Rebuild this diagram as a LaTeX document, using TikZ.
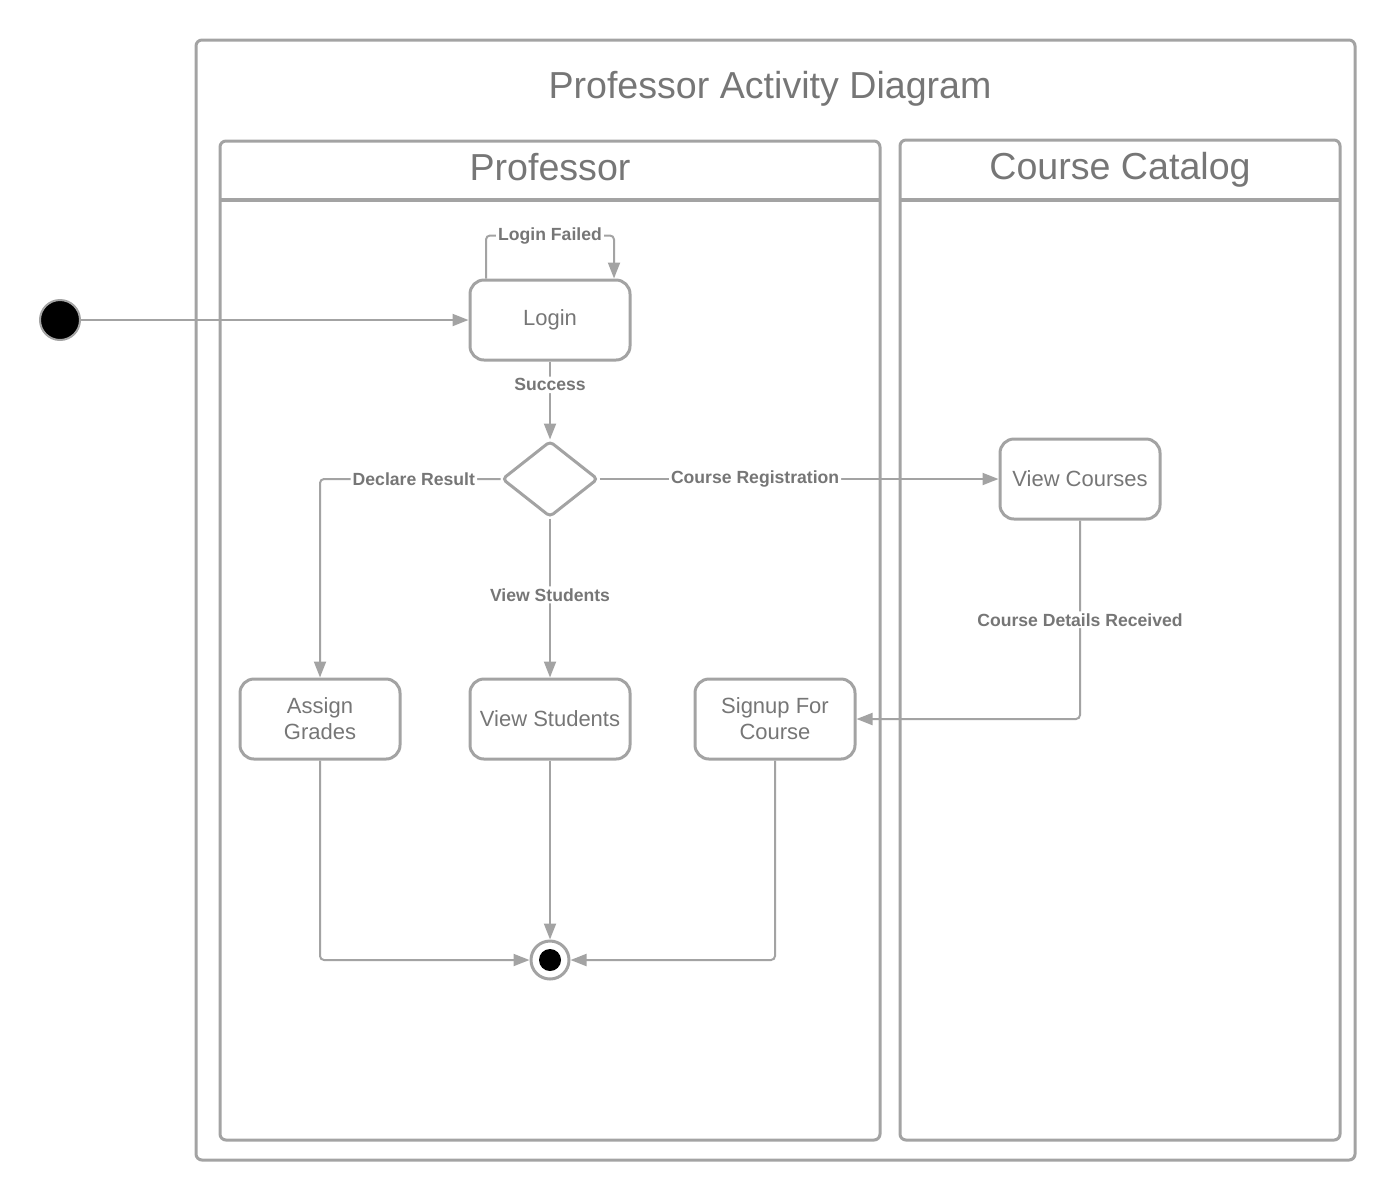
\documentclass[tikz,border=0pt]{standalone}
\usepackage{fontspec}
\setmainfont{Liberation Sans}
\usetikzlibrary{shapes.geometric,arrows.meta,positioning}
\definecolor{linegray}{HTML}{A3A3A3}
\definecolor{textgray}{HTML}{767676}

\begin{document}
\begin{tikzpicture}[x=0.5pt,y=-0.5pt,
  frame/.style={draw=linegray, line width=1.5pt, rounded corners=3pt},
  activity/.style={draw=linegray, line width=1.5pt, rounded corners=7pt, minimum width=80pt,
    minimum height=40pt, text=textgray, align=center, font=\fontsize{11}{13}\selectfont},
  decision/.style={diamond, draw=linegray, line width=1.5pt, rounded corners=2pt,
    minimum width=48pt, minimum height=38pt, inner sep=0pt},
  flow/.style={draw=linegray, line width=1pt, rounded corners=2pt, -{Triangle[length=8pt,width=6pt]}},
  lbl/.style={fill=white, text=textgray, inner sep=1pt, font=\bfseries\fontsize{8.8}{10}\selectfont},
  heading/.style={text=textgray, font=\fontsize{18.8}{22}\selectfont}]
  \useasboundingbox (0,0) rectangle (1400,1200);

  % frames and swimlanes
  \draw[frame] (196,40) rectangle (1355,1160);
  \node[heading] (diagtitle) at (770,89) {Professor Activity Diagram};
  \draw[frame] (220,141) rectangle (880,1140);
  \draw[draw=linegray, line width=2pt] (220,200) -- (880,200);
  \node[heading] (proftitle) at (550,167) {Professor};
  \draw[frame] (900,140) rectangle (1340,1140);
  \draw[draw=linegray, line width=2pt] (900,200) -- (1340,200);
  \node[heading] (cattitle) at (1120,170) {Course Catalog};

  % nodes
  \node[circle, fill=black, draw=linegray, line width=1pt, minimum size=20pt, inner sep=0pt] (start) at (60,320) {};
  \node[activity] (login) at (550,320) {Login};
  \node[decision] (choice) at (550,479) {};
  \node[activity] (viewcourses) at (1080,479) {View Courses};
  \node[activity] (assign) at (320,719) {Assign\\Grades};
  \node[activity] (viewstud) at (550,719) {View Students};
  \node[activity] (signup) at (775,719) {Signup For\\Course};
  \node[circle, draw=linegray, line width=1.5pt, minimum size=19pt, inner sep=0pt] (final) at (550,960) {};
  \fill[black] (final.center) circle[radius=5.5pt];

  % connectors
  \draw[flow] (start) -- (login);
  \draw[flow] ([xshift=-32pt]login.north) -- ++(0,-43) -| node[lbl, pos=0.25] {Login Failed} ([xshift=32pt]login.north);
  \draw[flow] (login) -- node[lbl, pos=0.3] {Success} (choice);
  \draw[flow] (choice.west) -| node[lbl, pos=0.24] {Declare Result} (assign.north);
  \draw[flow] (choice) -- node[lbl, pos=0.48] {View Students} (viewstud);
  \draw[flow] (choice.east) -- node[lbl, pos=0.39] {Course Registration} (viewcourses.west);
  \draw[flow] (viewcourses.south) |- node[lbl, pos=0.25] {Course Details Received} (signup.east);
  \draw[flow] (assign.south) |- (final.west);
  \draw[flow] (viewstud) -- (final);
  \draw[flow] (signup.south) |- (final.east);
\end{tikzpicture}
\end{document}
